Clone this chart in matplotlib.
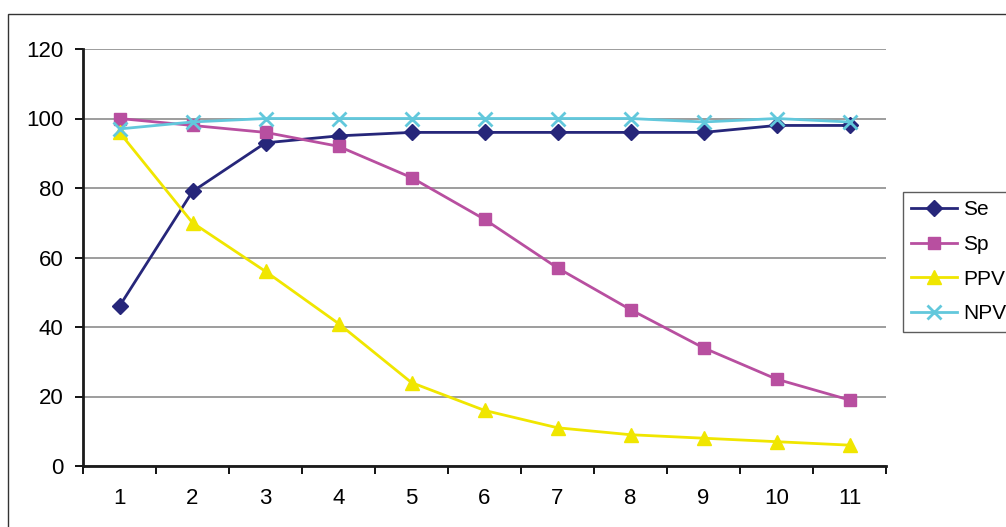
import numpy as np
import matplotlib.pyplot as plt
from matplotlib.patches import Rectangle

plt.rcParams['font.family'] = ['Liberation Sans', 'DejaVu Sans']

# threshold index along the x axis
steps = np.arange(1, 12)
se = [46, 79, 93, 95, 96, 96, 96, 96, 96, 98, 98]
sp = [100, 98, 96, 92, 83, 71, 57, 45, 34, 25, 19]
ppv = [96, 70, 56, 41, 24, 16, 11, 9, 8, 7, 6]
npv = [97, 99, 100, 100, 100, 100, 100, 100, 99, 100, 99]
yticks = [0, 20, 40, 60, 80, 100, 120]

fig = plt.figure(figsize=(10.06, 5.27), dpi=100)
ax = fig.add_axes([83 / 1006, 61 / 527, 803 / 1006, 417 / 527])

# outer chart frame (runs off the right and bottom edges)
fig.patches.append(Rectangle((8 / 1006, -0.2), 1.2, 0.2 + 513 / 527,
                             transform=fig.transFigure, fill=False,
                             edgecolor='#333333', linewidth=1.0))

ax.plot(steps, se, color='#26267a', lw=2, marker='D', ms=8, label='Se')
ax.plot(steps, sp, color='#b84fa0', lw=2, marker='s', ms=9, label='Sp')
ax.plot(steps, ppv, color='#f0e600', lw=2, marker='^', ms=10, label='PPV')
ax.plot(steps, npv, color='#62c8dc', lw=2, marker='x', ms=10, mew=2, label='NPV')

ax.set_xlim(0.5, 11.5)
ax.set_ylim(0, 120)
ax.set_yticks(yticks)
ax.set_xticks(steps)
ax.set_xticks(np.arange(0.5, 12, 1), minor=True)
ax.tick_params(axis='x', which='major', length=0, pad=16, labelsize=16)
ax.tick_params(axis='x', which='minor', length=6, width=1.3, direction='out')
ax.tick_params(axis='y', length=6, width=1.3, direction='out', pad=8, labelsize=16)
ax.grid(axis='y', color='#8c8c8c', lw=1.2)
ax.set_axisbelow(True)

for side in ['top', 'right']:
    ax.spines[side].set_visible(False)
for side in ['left', 'bottom']:
    ax.spines[side].set_linewidth(2)
    ax.spines[side].set_color('#1a1a1a')

leg = fig.legend(loc='upper left', bbox_to_anchor=(903 / 1006, 335 / 527),
                 fontsize=15, frameon=True, fancybox=False, edgecolor='#333333',
                 handlelength=2.2, handletextpad=0.3, labelspacing=0.75,
                 borderpad=0.4, borderaxespad=0)
leg.get_frame().set_linewidth(1.0)

fig.savefig('out.png', dpi=100)
